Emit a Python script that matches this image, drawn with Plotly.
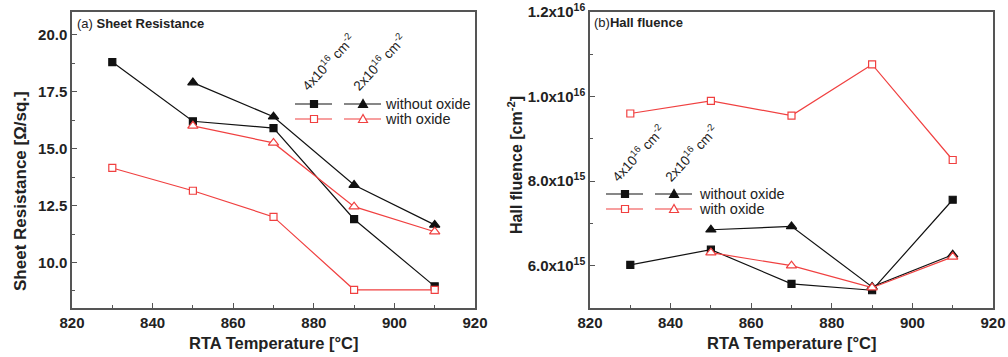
import plotly.graph_objects as go

# ---------------- data ----------------
temps_4e16 = [830, 850, 870, 890, 910]
temps_2e16 = [850, 870, 890, 910]

rs_4e16_wo = [18.8, 16.2, 15.9, 11.9, 8.95]
rs_2e16_wo = [17.9, 16.4, 13.4, 11.65]
rs_4e16_w = [14.15, 13.15, 12.0, 8.8, 8.8]
rs_2e16_w = [16.0, 15.25, 12.45, 11.35]

hall_4e16_wo = [6.02e15, 6.38e15, 5.57e15, 5.42e15, 7.56e15]
hall_2e16_wo = [6.85e15, 6.93e15, 5.5e15, 6.26e15]
hall_4e16_w = [9.6e15, 9.9e15, 9.55e15, 1.076e16, 8.5e15]
hall_2e16_w = [6.31e15, 6.0e15, 5.48e15, 6.21e15]

x_ticks = [820, 840, 860, 880, 900, 920]
rs_ticks = [10.0, 12.5, 15.0, 17.5, 20.0]
hall_ticks = [6e15, 8e15, 1e16, 1.2e16]
hall_ticktext = ["<b>6.0x10<sup>15</sup></b>", "<b>8.0x10<sup>15</sup></b>",
                 "<b>1.0x10<sup>16</sup></b>", "<b>1.2x10<sup>16</sup></b>"]

BLACK = "#111111"
RED = "#f04040"
FONT = "Liberation Sans, Arial, sans-serif"
W, H = 1008, 357


def px(x):
    return x / W


def py(y):
    return 1 - y / H


fig = go.Figure()


def add_series(x, y, color, symbol, filled, xa, ya, size):
    fig.add_trace(go.Scatter(
        x=x, y=y, mode="lines+markers", xaxis=xa, yaxis=ya,
        line=dict(color=color, width=1.2),
        marker=dict(symbol=symbol, size=size,
                    color=color if filled else "white",
                    line=dict(color=color, width=1.2)),
        showlegend=False, hoverinfo="x+y"))


# panel (a)
add_series(temps_4e16, rs_4e16_wo, BLACK, "square", True, "x", "y", 7)
add_series(temps_2e16, rs_2e16_wo, BLACK, "triangle-up", True, "x", "y", 9)
add_series(temps_4e16, rs_4e16_w, RED, "square", False, "x", "y", 7)
add_series(temps_2e16, rs_2e16_w, RED, "triangle-up", False, "x", "y", 9)
# panel (b)
add_series(temps_4e16, hall_4e16_wo, BLACK, "square", True, "x2", "y2", 7)
add_series(temps_2e16, hall_2e16_wo, BLACK, "triangle-up", True, "x2", "y2", 9)
add_series(temps_4e16, hall_4e16_w, RED, "square", False, "x2", "y2", 7)
add_series(temps_2e16, hall_2e16_w, RED, "triangle-up", False, "x2", "y2", 9)

axis_common = dict(showline=True, linecolor="#555555", linewidth=1.5, mirror=True,
                   ticks="inside", ticklen=5, tickwidth=1, tickcolor="#555555",
                   showgrid=False, zeroline=False, automargin=False,
                   tickfont=dict(family=FONT, size=15, color="#222", weight="bold"))

ydom = [py(308), py(12)]

fig.update_layout(
    width=W, height=H, margin=dict(l=0, r=0, t=0, b=0),
    paper_bgcolor="white", plot_bgcolor="white",
    xaxis=dict(domain=[px(72), px(475)], range=[820, 920], tickvals=x_ticks,
               minor=dict(ticks="inside", dtick=10, ticklen=3, tickcolor="#555555"),
               anchor="y", **axis_common),
    yaxis=dict(domain=ydom, range=[8.0, 21.0], tickvals=rs_ticks,
               tickformat=".1f",
               minor=dict(ticks="inside", tick0=8.75, dtick=1.25, ticklen=3, tickcolor="#555555"),
               anchor="x", **axis_common),
    xaxis2=dict(domain=[px(590), px(993)], range=[820, 920], tickvals=x_ticks,
                minor=dict(ticks="inside", dtick=10, ticklen=3, tickcolor="#555555"),
                anchor="y2", **axis_common),
    yaxis2=dict(domain=ydom, range=[5.0e15, 1.2e16], tickvals=hall_ticks,
                ticktext=hall_ticktext,
                minor=dict(ticks="inside", tick0=5e15, dtick=1e15, ticklen=3, tickcolor="#555555"),
                anchor="x2", **axis_common),
)

ann = []


def text(x, y, s, size, angle=0, color="#222", xanchor="center"):
    ann.append(dict(x=px(x), y=py(y), xref="paper", yref="paper", text=s,
                    showarrow=False, textangle=angle, xanchor=xanchor, yanchor="middle",
                    font=dict(family=FONT, size=size, color=color)))


# axis titles
text(273, 343, "<b>RTA Temperature [°C]</b>", 16.5)
text(791, 343, "<b>RTA Temperature [°C]</b>", 16.5)
text(20, 191, "<b>Sheet Resistance [Ω/sq.]</b>", 17, angle=-90)
text(515, 165, "<b>Hall fluence [cm<sup>-2</sup>]</b>", 16, angle=-90)

# panel titles
text(75, 24, "(a) <b>Sheet Resistance</b>", 13, xanchor="left")
text(592, 22, "(b)<b>Hall fluence</b>", 13, xanchor="left")

shapes = []


def legend_block(x1, x2, xtext, yrow1, yrow2, hx1, hx2, hy):
    text(hx1, hy, "4x10<sup>16</sup> cm<sup>-2</sup>", 13.5, angle=-47)
    text(hx2, hy, "2x10<sup>16</sup> cm<sup>-2</sup>", 13.5, angle=-47)
    for (xc, sym), yrow, col, filled in [
        ((x1, "sq"), yrow1, BLACK, True), ((x2, "tri"), yrow1, BLACK, True),
        ((x1, "sq"), yrow2, RED, False), ((x2, "tri"), yrow2, RED, False)]:
        shapes.append(dict(type="line", xref="paper", yref="paper",
                           x0=px(xc - 19), x1=px(xc + 18), y0=py(yrow), y1=py(yrow),
                           line=dict(color=col, width=1.2)))
        fill = col if filled else "white"
        if sym == "sq":
            shapes.append(dict(type="rect", xref="paper", yref="paper",
                               x0=px(xc - 3.5), x1=px(xc + 3.5),
                               y0=py(yrow + 3.5), y1=py(yrow - 3.5),
                               fillcolor=fill, line=dict(color=col, width=1.2)))
        else:
            path = "M {:.5f},{:.5f} L {:.5f},{:.5f} L {:.5f},{:.5f} Z".format(
                px(xc), py(yrow - 4.5), px(xc - 4.5), py(yrow + 3.5), px(xc + 4.5), py(yrow + 3.5))
            shapes.append(dict(type="path", xref="paper", yref="paper", path=path,
                               fillcolor=fill, line=dict(color=col, width=1.2)))
    text(xtext, yrow1, "without oxide", 14.5, xanchor="left")
    text(xtext, yrow2, "with oxide", 14.5, xanchor="left")


legend_block(314, 363, 383, 104, 119, 328, 379, 62)
legend_block(625, 674, 697, 194, 209, 638, 691, 153)

fig.update_layout(annotations=ann, shapes=shapes)
fig.write_html("out.html", config={"displayModeBar": False},
               post_script="document.body.style.margin='0';document.body.style.overflow='hidden';")
